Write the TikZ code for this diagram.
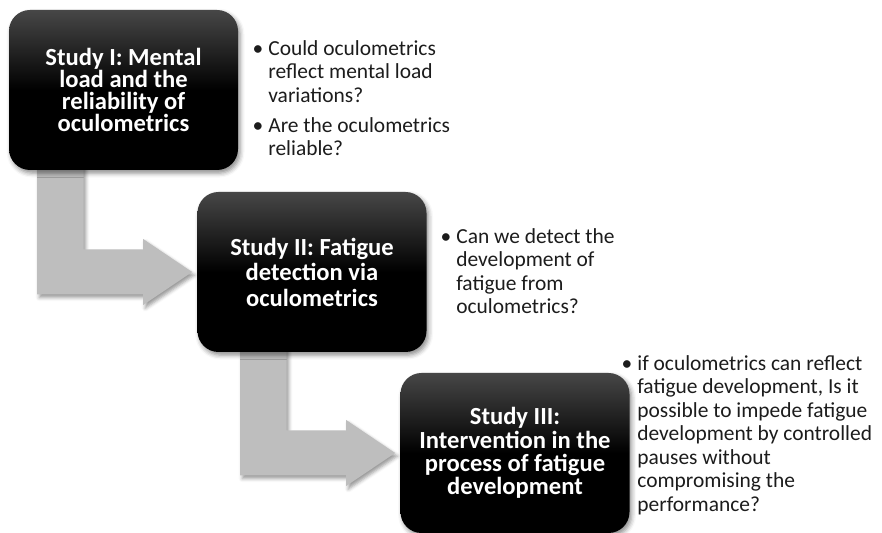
\documentclass[tikz,border=0pt]{standalone}
\usepackage{fontspec}
\setmainfont{Carlito}
\usetikzlibrary{calc,shadows.blur,backgrounds}
\definecolor{BoxTop}{HTML}{474747}
\definecolor{ArrowGrey}{HTML}{BEBEBE}
\definecolor{Ink}{HTML}{1C1C1C}

\begin{document}
\begin{tikzpicture}[study/.style={rectangle,rounded corners=0.42cm,minimum width=4.58cm,minimum height=3.2cm,align=center,inner sep=0pt,top color=BoxTop,bottom color=black,middle color=black,text=white,font=\fontsize{14}{12.6}\selectfont\bfseries,blur shadow={shadow xshift=1.2pt,shadow yshift=-1.8pt,shadow blur radius=2.5pt,shadow opacity=45}}, bent/.style={fill=ArrowGrey,blur shadow={shadow xshift=1.2pt,shadow yshift=-1.8pt,shadow blur radius=2pt,shadow opacity=40}}, question/.style={anchor=north west,align=left,inner sep=0pt,text=Ink,font=\fontsize{12.2}{13.4}\selectfont}]
\useasboundingbox (0,0) rectangle (17.64,10.66);
\node[study] (s1) at (2.47,8.86) {Study I: Mental\\load and the\\reliability of\\oculometrics};
\node[study,font=\fontsize{14}{14.5}\selectfont\bfseries] (s2) at (6.24,5.22) {Study II: Fatigue\\detection via\\oculometrics};
\node[study,font=\fontsize{14}{13.3}\selectfont\bfseries] (s3) at (10.30,1.60) {Study III:\\Intervention in the\\process of fatigue\\development};
% bent arrows from one study to the next
\begin{scope}[on background layer]
\foreach \from/\to in {s1/s2,s2/s3}
  \fill[bent] let \p1=($(\to.west)+(-0.1,0)$), \p2=(\from.south) in (\x1-3.1cm,\y2+0.3cm) -- (\x1-2.17cm,\y2+0.3cm) -- (\x1-2.17cm,\y1+0.45cm) -- (\x1-0.98cm,\y1+0.45cm) -- (\x1-0.98cm,\y1+0.66cm) -- (\p1) -- (\x1-0.98cm,\y1-0.66cm) -- (\x1-0.98cm,\y1-0.45cm) -- (\x1-3.1cm,\y1-0.45cm) -- cycle;
\end{scope}
\node[question] (q1) at (5.36,9.86) {\llap{\textbullet\hspace{0.1cm}}Could oculometrics\\reflect mental load\\variations?\\[3.7pt]\llap{\textbullet\hspace{0.1cm}}Are the oculometrics\\reliable?};
\node[question] (q2) at (9.12,6.10) {\llap{\textbullet\hspace{0.1cm}}Can we detect the\\development of\\fatigue from\\oculometrics?};
\node[question] (q3) at (12.74,3.56) {\llap{\textbullet\hspace{0.1cm}}if oculometrics can reflect\\fatigue development, Is it\\possible to impede fatigue\\development by controlled\\pauses without\\compromising the\\performance?};
\end{tikzpicture}
\end{document}
